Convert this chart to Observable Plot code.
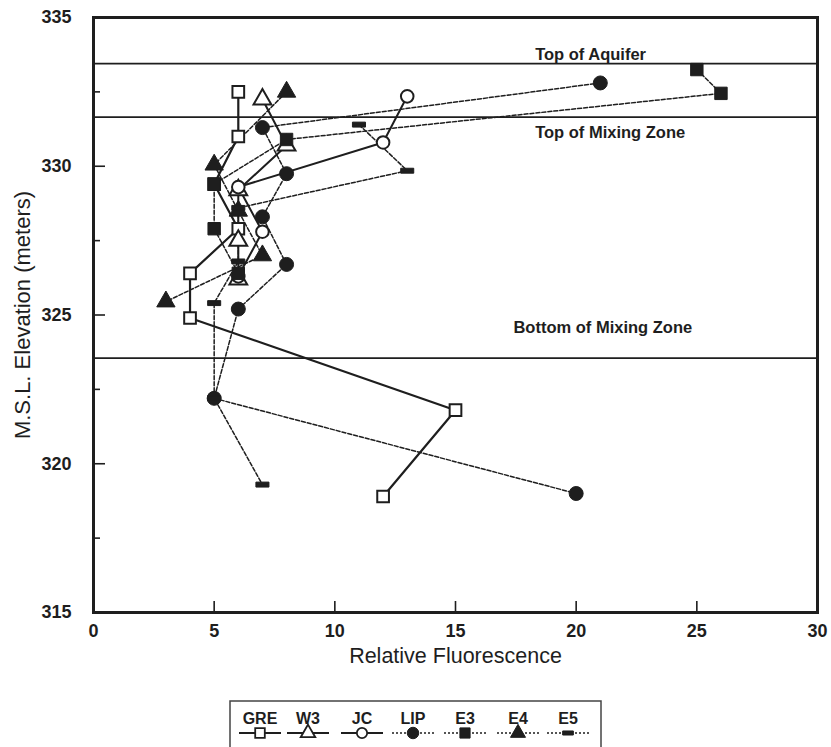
<!DOCTYPE html>
<html><head><meta charset="utf-8">
<script src="https://cdn.jsdelivr.net/npm/d3@7"></script>
<script src="https://cdn.jsdelivr.net/npm/@observablehq/plot@0.6"></script>
<style>
body{margin:0;background:#fff;}
#wrap{position:relative;width:831px;height:747px;overflow:hidden;font-family:"Liberation Sans",Arial,sans-serif;}
#legend{position:absolute;left:229px;top:700px;}
#plot{position:absolute;left:0;top:0;}
</style></head><body><div id="wrap"><div id="plot"></div><svg id="legend" width="373" height="47"></svg></div>
<script>
// ---------- data ----------
const seriesNames = ["GRE","W3","JC","LIP","E3","E4","E5"];
const greX = [6, 6, 5, 6, 4, 4, 15, 12];
const greY = [332.5, 331.0, 329.4, 327.9, 326.4, 324.9, 321.8, 318.9];
const w3X  = [7, 8, 6, 6, 6];
const w3Y  = [332.25, 330.7, 329.2, 327.5, 326.2];
const jcX  = [13, 12, 6, 7, 6];
const jcY  = [332.35, 330.8, 329.3, 327.8, 326.3];
const lipX = [21, 7, 8, 7, 8, 6, 5, 20];
const lipY = [332.8, 331.3, 329.75, 328.3, 326.7, 325.2, 322.2, 319.0];
const e3X  = [25, 26, 8, 5, 5, 6];
const e3Y  = [333.25, 332.45, 330.9, 329.4, 327.9, 326.4];
const e4X  = [8, 5, 6, 7, 3];
const e4Y  = [332.5, 330.05, 328.5, 327.0, 325.45];
const e5X  = [11, 13, 6, 6, 5, 5, 7];
const e5Y  = [331.4, 329.85, 328.6, 326.8, 325.4, 322.2, 319.3];
const levelNames = ["Top of Aquifer", "Top of Mixing Zone", "Bottom of Mixing Zone"];
const levelY = [333.45, 331.65, 323.55];
const xTicks = [0, 5, 10, 15, 20, 25, 30];
const yTicks = [315, 320, 325, 330, 335];
const yMinor = [317.5, 322.5, 327.5, 332.5];
const xLabel = "Relative Fluorescence";
const yLabel = "M.S.L. Elevation (meters)";

// ---------- build table ----------
const seriesX = [greX, w3X, jcX, lipX, e3X, e4X, e5X];
const seriesY = [greY, w3Y, jcY, lipY, e3Y, e4Y, e5Y];
const rows = [];
seriesNames.forEach((s, i) => seriesX[i].forEach((x, j) => rows.push({series: s, x, y: seriesY[i][j]})));

// ---------- styles ----------
const ink = "#1e1e1e";
const dashSymbol = {draw(ctx, size) { const w = Math.sqrt(size) * 1.05, h = w * 0.38; ctx.rect(-w / 2, -h / 2, w, h); }};
const style = {
  GRE: {symbol: "square",   fill: "white", dash: null,  r: 6.6, sw: 2.2},
  W3:  {symbol: "triangle", fill: "white", dash: null,  r: 6.6, sw: 2.0},
  JC:  {symbol: "circle",   fill: "white", dash: null,  r: 6.3, sw: 2.0},
  LIP: {symbol: "circle",   fill: ink,     dash: "4,2", r: 7,   sw: 1.5},
  E3:  {symbol: "square",   fill: ink,     dash: "4,2", r: 7,   sw: 1.5},
  E4:  {symbol: "triangle", fill: ink,     dash: "4,2", r: 6.8, sw: 1.5},
  E5:  {symbol: dashSymbol, fill: ink,     dash: "4,2", r: 7,   sw: 1.5}
};

const W = 831, H = 682, mL = 93, mR = 14, mT = 17, mB = 70;
const plotW = W - mL - mR, plotH = H - mT - mB;

const lineMarks = seriesNames.map(s => Plot.line(rows.filter(d => d.series === s), {
  x: "x", y: "y", stroke: ink, strokeWidth: style[s].sw, strokeDasharray: style[s].dash
}));
const dotMarks = seriesNames.map(s => Plot.dot(rows.filter(d => d.series === s), {
  x: "x", y: "y", symbol: () => style[s].symbol, r: style[s].r, fill: style[s].fill,
  stroke: ink, strokeWidth: style[s].fill === "white" ? 2 : 1
}));

const chart = Plot.plot({
  width: W, height: H, marginLeft: mL, marginRight: mR, marginTop: mT, marginBottom: mB,
  style: {fontFamily: "'Liberation Sans', Arial, sans-serif", color: ink, background: "white"},
  x: {domain: [0, 30], label: null},
  y: {domain: [315, 335], label: null},
  symbol: {type: "identity"},
  marks: [
    Plot.ruleY(levelY, {stroke: ink, strokeWidth: 1.7}),
    Plot.text([levelNames[0]], {x: 18.3, y: levelY[0], dy: -9, text: d => d, textAnchor: "start", fontSize: 16.5, fontWeight: "bold", fill: ink}),
    Plot.text([levelNames[1]], {x: 18.3, y: levelY[1], dy: 16, text: d => d, textAnchor: "start", fontSize: 16.5, fontWeight: "bold", fill: ink}),
    Plot.text([levelNames[2]], {x: 17.4, y: levelY[2], dy: -30, text: d => d, textAnchor: "start", fontSize: 16.5, fontWeight: "bold", fill: ink}),
    ...lineMarks,
    ...dotMarks,
    Plot.tickY(yTicks, {y: d => d, insetRight: plotW - 12, stroke: ink, strokeWidth: 1.6}),
    Plot.tickY(yMinor, {y: d => d, insetRight: plotW - 7, stroke: ink, strokeWidth: 1.6}),
    Plot.tickX(xTicks, {x: d => d, insetTop: plotH - 11, stroke: ink, strokeWidth: 1.6}),
    Plot.frame({stroke: ink, strokeWidth: 3}),
    Plot.axisX(xTicks, {tickSize: 0, tickPadding: 12, fontSize: 18, fontWeight: "bold", label: null, fill: ink}),
    Plot.axisY(yTicks, {tickSize: 0, tickPadding: 22, fontSize: 18, fontWeight: "bold", label: null, fill: ink}),
    Plot.text([xLabel], {frameAnchor: "bottom", dy: 50, text: d => d, fontSize: 21.5, fill: ink}),
    Plot.text([yLabel], {frameAnchor: "left", dx: -71, rotate: -90, textAnchor: "middle", text: d => d, fontSize: 22, fill: ink})
  ]
});
document.getElementById("plot").appendChild(chart);

// ---------- legend ----------
const lg = d3.select("#legend");
lg.append("rect").attr("x", 1).attr("y", 1).attr("width", 371).attr("height", 60)
  .attr("fill", "white").attr("stroke", "#444").attr("stroke-width", 1.5);
const legendCx = [31, 79, 133, 184, 236, 289, 339];
const d3Sym = {square: d3.symbolSquare, triangle: d3.symbolTriangle, circle: d3.symbolCircle};
seriesNames.forEach((s, i) => {
  const cx = legendCx[i], st = style[s];
  lg.append("text").attr("x", cx).attr("y", 24).attr("text-anchor", "middle")
    .attr("font-family", "'Liberation Sans', Arial, sans-serif").attr("font-size", 16).attr("font-weight", "bold")
    .attr("fill", ink).text(s);
  lg.append("line").attr("x1", cx - 21).attr("x2", cx + 21).attr("y1", 33).attr("y2", 33)
    .attr("stroke", ink).attr("stroke-width", st.dash ? 1.4 : 1.8).attr("stroke-dasharray", st.dash ? "2,2" : null);
  const type = typeof st.symbol === "string" ? d3Sym[st.symbol] : st.symbol;
  const rr = st.r * 0.82;
  lg.append("path").attr("d", d3.symbol(type, Math.PI * rr * rr)()).attr("transform", `translate(${cx},33)`)
    .attr("fill", st.fill).attr("stroke", ink).attr("stroke-width", st.fill === "white" ? 1.8 : 1);
});
</script></body></html>
